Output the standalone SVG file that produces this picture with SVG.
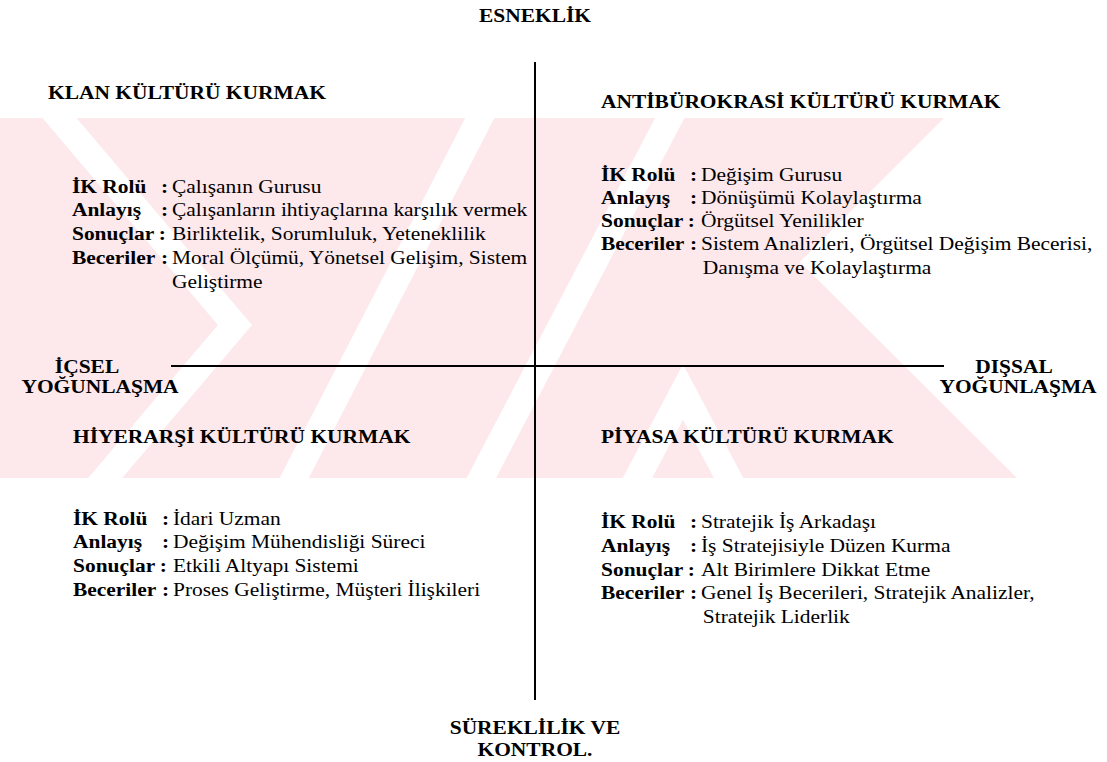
<svg xmlns="http://www.w3.org/2000/svg" width="1107" height="762" viewBox="0 0 1107 762">
<style>
text{font-family:"Liberation Serif","Times New Roman",serif;font-size:19.5px;fill:#000}
.b{font-weight:bold}
.wg{fill:none;stroke:#fff;stroke-width:26}
.ax{stroke:#000;stroke-width:2;fill:none}
</style>
<defs>
<clipPath id="band"><rect x="0" y="118" width="1107" height="360"/></clipPath>
</defs>
<rect width="1107" height="762" fill="#fff"/>
<g id="watermark" clip-path="url(#band)">
<polygon fill="#fde8ec" points="0,118 944,118 800,262 1017,478 0,478"/>
<polyline class="wg" points="40,95 235,325 95,490"/>
<polyline class="wg" points="287,492 485,108"/>
<polyline class="wg" points="474,492 675,108"/>
<polyline class="wg" points="630,492 683,392 736,492"/>
</g>
<g id="connectors">
<line class="ax" x1="535" y1="62" x2="535" y2="700"/>
<line class="ax" x1="171" y1="366" x2="944" y2="366"/>
</g>
<g id="axis-top"><text class="b" text-anchor="middle" transform="translate(535,22) scale(1.1,1)">ESNEKLİK</text></g>
<g id="axis-left">
<text class="b" text-anchor="middle" transform="translate(87,373) scale(1.1,1)">İÇSEL</text>
<text class="b" text-anchor="middle" transform="translate(100,393) scale(1.1,1)">YOĞUNLAŞMA</text>
</g>
<g id="axis-right">
<text class="b" text-anchor="middle" transform="translate(1014,373) scale(1.1,1)">DIŞSAL</text>
<text class="b" text-anchor="middle" transform="translate(1018,393) scale(1.1,1)">YOĞUNLAŞMA</text>
</g>
<g id="axis-bottom">
<text class="b" text-anchor="middle" transform="translate(535,734) scale(1.1,1)">SÜREKLİLİK VE</text>
<text class="b" text-anchor="middle" transform="translate(535,756) scale(1.1,1)">KONTROL.</text>
</g>
<g id="klan" transform="translate(48,0) scale(1.1,1)">
<text class="b" x="0" y="99">KLAN KÜLTÜRÜ KURMAK</text>
<text y="193"><tspan class="b" x="21.8">İK Rolü</tspan><tspan class="b" x="102.7">:</tspan><tspan x="112.7">Çalışanın Gurusu</tspan></text>
<text y="216"><tspan class="b" x="21.8">Anlayış</tspan><tspan class="b" x="102.7">:</tspan><tspan x="112.7">Çalışanların ihtiyaçlarına karşılık vermek</tspan></text>
<text y="240"><tspan class="b" x="21.8">Sonuçlar</tspan><tspan class="b" x="100.7">:</tspan><tspan x="112.7">Birliktelik, Sorumluluk, Yeteneklilik</tspan></text>
<text y="264"><tspan class="b" x="21.8">Beceriler</tspan><tspan class="b" x="102.7">:</tspan><tspan x="112.7">Moral Ölçümü, Yönetsel Gelişim, Sistem</tspan></text>
<text y="288"><tspan x="112.7">Geliştirme</tspan></text>
</g>
<g id="antiburokrasi" transform="translate(601,0) scale(1.1,1)">
<text class="b" x="0" y="108">ANTİBÜROKRASİ KÜLTÜRÜ KURMAK</text>
<text y="181"><tspan class="b" x="0">İK Rolü</tspan><tspan class="b" x="80.9">:</tspan><tspan x="90.9">Değişim Gurusu</tspan></text>
<text y="204"><tspan class="b" x="0">Anlayış</tspan><tspan class="b" x="80.9">:</tspan><tspan x="90.9">Dönüşümü Kolaylaştırma</tspan></text>
<text y="227"><tspan class="b" x="0">Sonuçlar</tspan><tspan class="b" x="78.9">:</tspan><tspan x="90.9">Örgütsel Yenilikler</tspan></text>
<text y="250"><tspan class="b" x="0">Beceriler</tspan><tspan class="b" x="80.9">:</tspan><tspan x="90.9">Sistem Analizleri, Örgütsel Değişim Becerisi,</tspan></text>
<text y="274"><tspan x="92.5">Danışma ve Kolaylaştırma</tspan></text>
</g>
<g id="hiyerarsi" transform="translate(73,0) scale(1.1,1)">
<text class="b" x="0" y="443">HİYERARŞİ KÜLTÜRÜ KURMAK</text>
<text y="525"><tspan class="b" x="0">İK Rolü</tspan><tspan class="b" x="80.9">:</tspan><tspan x="90.9">İdari Uzman</tspan></text>
<text y="548"><tspan class="b" x="0">Anlayış</tspan><tspan class="b" x="80.9">:</tspan><tspan x="90.9">Değişim Mühendisliği Süreci</tspan></text>
<text y="572"><tspan class="b" x="0">Sonuçlar</tspan><tspan class="b" x="78.9">:</tspan><tspan x="90.9">Etkili Altyapı Sistemi</tspan></text>
<text y="596"><tspan class="b" x="0">Beceriler</tspan><tspan class="b" x="80.9">:</tspan><tspan x="90.9">Proses Geliştirme, Müşteri İlişkileri</tspan></text>
</g>
<g id="piyasa" transform="translate(601,0) scale(1.1,1)">
<text class="b" x="0" y="443">PİYASA KÜLTÜRÜ KURMAK</text>
<text y="528"><tspan class="b" x="0">İK Rolü</tspan><tspan class="b" x="80.9">:</tspan><tspan x="90.9">Stratejik İş Arkadaşı</tspan></text>
<text y="552"><tspan class="b" x="0">Anlayış</tspan><tspan class="b" x="80.9">:</tspan><tspan x="90.9">İş Stratejisiyle Düzen Kurma</tspan></text>
<text y="576"><tspan class="b" x="0">Sonuçlar</tspan><tspan class="b" x="78.9">:</tspan><tspan x="90.9">Alt Birimlere Dikkat Etme</tspan></text>
<text y="599"><tspan class="b" x="0">Beceriler</tspan><tspan class="b" x="80.9">:</tspan><tspan x="90.9">Genel İş Becerileri, Stratejik Analizler,</tspan></text>
<text y="623"><tspan x="92.5">Stratejik Liderlik</tspan></text>
</g>
</svg>
